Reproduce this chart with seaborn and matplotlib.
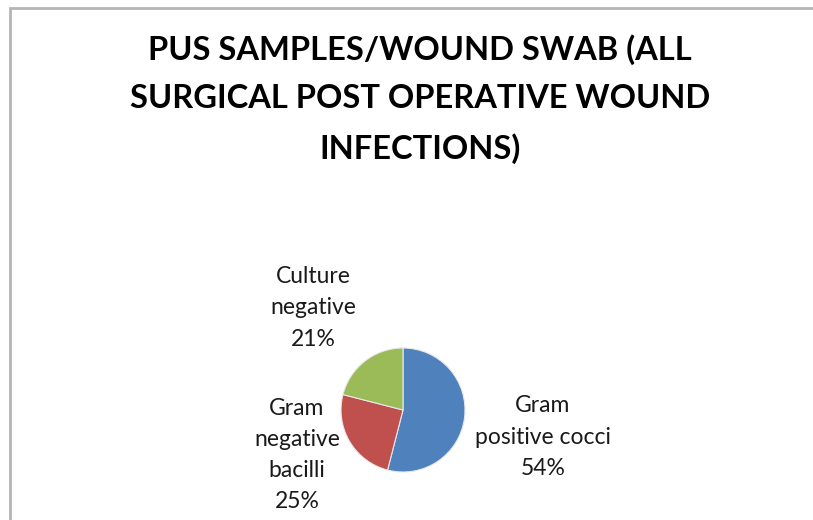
import matplotlib
matplotlib.use("Agg")
import matplotlib.pyplot as plt
import seaborn as sns
from matplotlib.patches import Rectangle

categories = ["Gram positive cocci", "Gram negative bacilli", "Culture negative"]
shares = [54, 25, 21]
labels = ["Gram\npositive cocci\n54%", "Gram\nnegative\nbacilli\n25%", "Culture\nnegative\n21%"]
colors = ["#4F81BD", "#C0504D", "#9BBB59"]

title = "PUS SAMPLES/WOUND SWAB (ALL\nSURGICAL POST OPERATIVE WOUND\nINFECTIONS)"

sns.set_theme(style="white")
plt.rcParams["font.family"] = ["Lato", "DejaVu Sans"]

fig = plt.figure(figsize=(8.13, 5.2), dpi=100)
ax = fig.add_axes([0, 0, 1, 1])

# chart area frame (cut off at right/bottom like the screenshot)
ax.add_patch(Rectangle((10, -20), 840, 532, fill=False, edgecolor="#b5b5b5", linewidth=2))

wedges, _ = ax.pie(shares, colors=colors, startangle=90, counterclock=False,
                   center=(403, 110), radius=62, frame=True,
                   wedgeprops=dict(edgecolor="#e8e8e8", linewidth=0.8))
ax.set_xlim(0, 813)
ax.set_ylim(0, 520)
ax.axis("off")

label_pos = [(543, 83), (297, 65), (313, 212)]
for (x, y), txt in zip(label_pos, labels):
    ax.text(x, y, txt, ha="center", va="center", fontsize=16.5,
            linespacing=1.6, color="#1a1a1a")

ax.text(420, 421, title, ha="center", va="center", fontsize=23.5, fontweight="bold",
        linespacing=1.78, color="black")

fig.savefig("out.png", dpi=100)
